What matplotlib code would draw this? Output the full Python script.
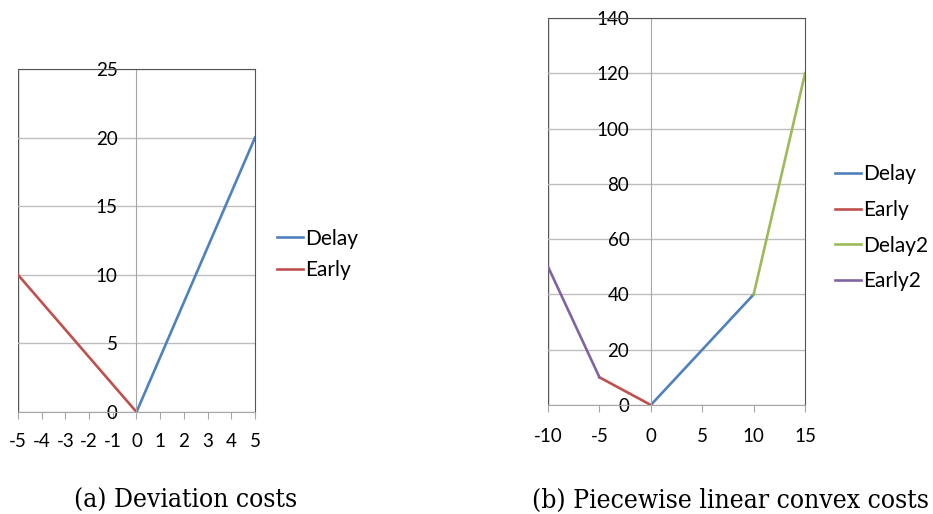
import matplotlib
matplotlib.use('Agg')
from matplotlib import pyplot as plt

# (a) deviation costs
a_delay_x = [0, 5]
a_delay_y = [0, 20]
a_early_x = [-5, 0]
a_early_y = [10, 0]

# (b) piecewise linear convex costs
b_delay_x = [0, 10]
b_delay_y = [0, 40]
b_early_x = [-5, 0]
b_early_y = [10, 0]
b_delay2_x = [10, 15]
b_delay2_y = [40, 120]
b_early2_x = [-10, -5]
b_early2_y = [50, 10]

blue = '#4F81BD'
red = '#C0504D'
green = '#9BBB59'
purple = '#8064A2'

plt.rcParams['font.family'] = ['Lato', 'DejaVu Sans']
plt.rcParams['axes.unicode_minus'] = False
fig = plt.figure(figsize=(9.33, 5.14), dpi=100)


def style(ax, xlim, ylim, xticks, yticks, ypad, xpad):
    ax.set_xlim(xlim)
    ax.set_ylim(ylim)
    ax.set_xticks(xticks)
    ax.set_yticks(yticks)
    ax.yaxis.grid(True, color='#BEBEBE', lw=1)
    ax.set_axisbelow(True)
    ax.spines['left'].set_position(('data', 0))
    ax.spines['left'].set_color('#A6A6A6')
    ax.spines['bottom'].set_color('#A6A6A6')
    ax.spines['top'].set_color('#555555')
    ax.spines['right'].set_color('#555555')
    ax.axvline(xlim[0], color='#555555', lw=1, zorder=0)
    ax.tick_params(axis='y', length=0, pad=ypad, labelsize=13.5)
    ax.tick_params(axis='x', length=5, color='#A6A6A6', pad=xpad, labelsize=13.5)


ax1 = fig.add_axes([0.0193, 0.1984, 0.254, 0.6673])
l1 = ax1.plot(a_delay_x, a_delay_y, color=blue, lw=1.9, label='Delay')
l2 = ax1.plot(a_early_x, a_early_y, color=red, lw=1.9, label='Early')
style(ax1, (-5, 5), (0, 25), range(-5, 6), range(0, 26, 5), 13.5, 10)
fig.legend(handles=l1 + l2, loc='center left', bbox_to_anchor=(0.297, 0.505),
           frameon=False, fontsize=15, handlelength=1.25, handletextpad=0.1,
           labelspacing=0.55, borderpad=0, borderaxespad=0)

ax2 = fig.add_axes([0.5874, 0.2121, 0.2755, 0.753])
m1 = ax2.plot(b_delay_x, b_delay_y, color=blue, lw=1.9, label='Delay')
m2 = ax2.plot(b_early_x, b_early_y, color=red, lw=1.9, label='Early')
m3 = ax2.plot(b_delay2_x, b_delay2_y, color=green, lw=1.9, label='Delay2')
m4 = ax2.plot(b_early2_x, b_early2_y, color=purple, lw=1.9, label='Early2')
style(ax2, (-10, 15), (0, 140), range(-10, 16, 5), range(0, 141, 20), 15.5, 11.5)
fig.legend(handles=m1 + m2 + m3 + m4, loc='center left', bbox_to_anchor=(0.895, 0.557),
           frameon=False, fontsize=15, handlelength=1.25, handletextpad=0.1,
           labelspacing=0.75, borderpad=0, borderaxespad=0)

fig.text(186 / 933, 1 - 500 / 514, '(a) Deviation costs', family='DejaVu Serif',
         fontstretch='condensed', fontsize=19, ha='center', va='center')
fig.text(730 / 933, 1 - 500 / 514, '(b) Piecewise linear convex costs', family='DejaVu Serif',
         fontstretch='condensed', fontsize=19, ha='center', va='center')

fig.savefig('out.png', dpi=100)
